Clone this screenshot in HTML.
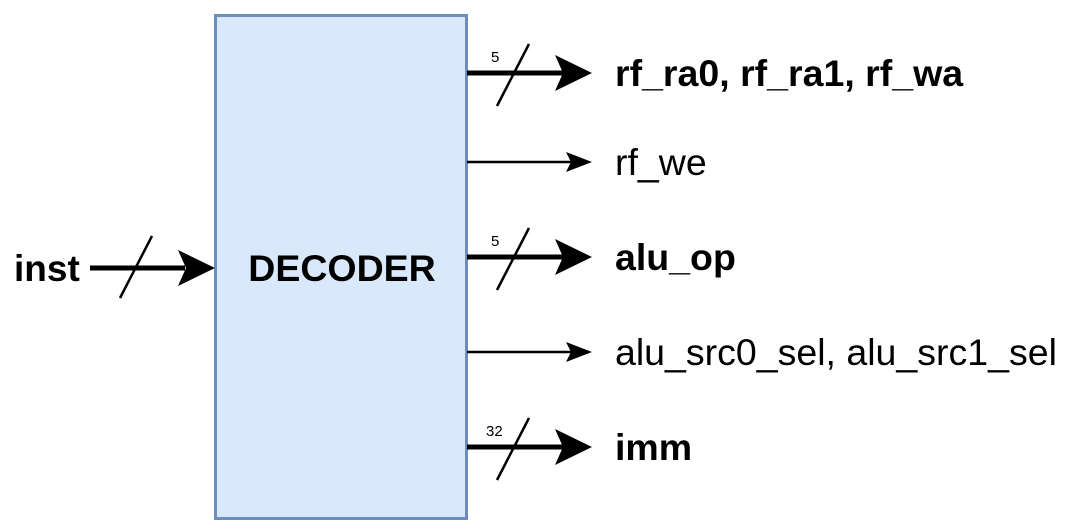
<!DOCTYPE html>
<html><head><meta charset="utf-8"><style>
body{margin:0;background:#fff;}
svg{display:block;font-family:"Liberation Sans",Arial,sans-serif;}
</style></head><body>
<svg width="1072" height="528" viewBox="0 0 1072 528">
<rect x="215.5" y="15.5" width="251" height="503" fill="#dae8fc" stroke="#6c8ebf" stroke-width="3"/>
<text x="342" y="281" text-anchor="middle" font-size="37.5" font-weight="bold">DECODER</text>

<g>
<line x1="90" y1="268" x2="185" y2="268" stroke="#000" stroke-width="5"/>
<path d="M178,250 L215,268 L178,286 L186,268 Z" fill="#000"/>
<line x1="120" y1="298" x2="152" y2="236" stroke="#000" stroke-width="2.5"/>
<text x="14" y="281" font-size="37" font-weight="bold">inst</text>
</g>

<g>
<line x1="467" y1="73" x2="565" y2="73" stroke="#000" stroke-width="5"/>
<path d="M555,55 L592,73 L555,91 L563,73 Z" fill="#000"/>
<line x1="497" y1="106" x2="529" y2="44" stroke="#000" stroke-width="2.5"/>
<text x="491" y="62" font-size="15">5</text>
<text x="615" y="86" font-size="37.5" font-weight="bold">rf_ra0, rf_ra1, rf_wa</text>
</g>

<g>
<line x1="467" y1="162" x2="580" y2="162" stroke="#000" stroke-width="2.5"/>
<path d="M566,152 L592,162 L566,172 L571,162 Z" fill="#000"/>
<text x="615" y="175" font-size="37.5">rf_we</text>
</g>

<g>
<line x1="467" y1="257" x2="565" y2="257" stroke="#000" stroke-width="5"/>
<path d="M555,239 L592,257 L555,275 L563,257 Z" fill="#000"/>
<line x1="497" y1="290" x2="529" y2="228" stroke="#000" stroke-width="2.5"/>
<text x="491" y="246" font-size="15">5</text>
<text x="615" y="270" font-size="37.5" font-weight="bold">alu_op</text>
</g>

<g>
<line x1="467" y1="352" x2="580" y2="352" stroke="#000" stroke-width="2.5"/>
<path d="M566,342 L592,352 L566,362 L571,352 Z" fill="#000"/>
<text x="615" y="365" font-size="37.5">alu_src0_sel, alu_src1_sel</text>
</g>

<g>
<line x1="467" y1="447" x2="565" y2="447" stroke="#000" stroke-width="5"/>
<path d="M555,429 L592,447 L555,465 L563,447 Z" fill="#000"/>
<line x1="497" y1="480" x2="529" y2="418" stroke="#000" stroke-width="2.5"/>
<text x="486" y="436" font-size="15">32</text>
<text x="615" y="460" font-size="37.5" font-weight="bold">imm</text>
</g>
</svg>
</body></html>
